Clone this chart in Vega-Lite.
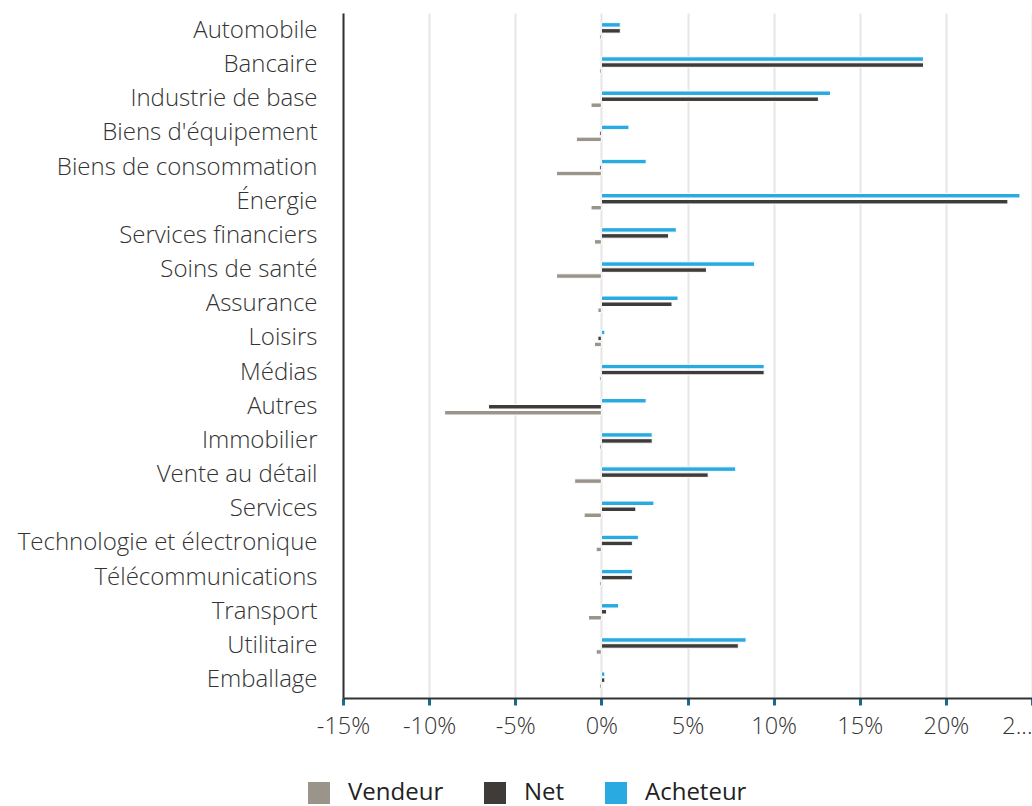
{
  "$schema": "https://vega.github.io/schema/vega-lite/v6.json",
  "autosize": "none",
  "width": 689,
  "height": 685,
  "padding": {"left": 343, "top": 13, "right": 0, "bottom": 108},
  "background": "white",
  "config": {
    "view": {"stroke": null},
    "font": "Open Sans"
  },
  "data": {
    "values": [
      {"secteur": "Automobile", "type": "Acheteur", "valeur": 1.1},
      {"secteur": "Automobile", "type": "Net", "valeur": 1.1},
      {"secteur": "Automobile", "type": "Vendeur", "valeur": -0.1},
      {"secteur": "Bancaire", "type": "Acheteur", "valeur": 18.7},
      {"secteur": "Bancaire", "type": "Net", "valeur": 18.7},
      {"secteur": "Bancaire", "type": "Vendeur", "valeur": -0.1},
      {"secteur": "Industrie de base", "type": "Acheteur", "valeur": 13.3},
      {"secteur": "Industrie de base", "type": "Net", "valeur": 12.6},
      {"secteur": "Industrie de base", "type": "Vendeur", "valeur": -0.6},
      {"secteur": "Biens d'équipement", "type": "Acheteur", "valeur": 1.6},
      {"secteur": "Biens d'équipement", "type": "Net", "valeur": -0.1},
      {"secteur": "Biens d'équipement", "type": "Vendeur", "valeur": -1.45},
      {"secteur": "Biens de consommation", "type": "Acheteur", "valeur": 2.6},
      {"secteur": "Biens de consommation", "type": "Net", "valeur": -0.1},
      {"secteur": "Biens de consommation", "type": "Vendeur", "valeur": -2.6},
      {"secteur": "Énergie", "type": "Acheteur", "valeur": 24.3},
      {"secteur": "Énergie", "type": "Net", "valeur": 23.6},
      {"secteur": "Énergie", "type": "Vendeur", "valeur": -0.6},
      {"secteur": "Services financiers", "type": "Acheteur", "valeur": 4.35},
      {"secteur": "Services financiers", "type": "Net", "valeur": 3.9},
      {"secteur": "Services financiers", "type": "Vendeur", "valeur": -0.4},
      {"secteur": "Soins de santé", "type": "Acheteur", "valeur": 8.9},
      {"secteur": "Soins de santé", "type": "Net", "valeur": 6.1},
      {"secteur": "Soins de santé", "type": "Vendeur", "valeur": -2.6},
      {"secteur": "Assurance", "type": "Acheteur", "valeur": 4.45},
      {"secteur": "Assurance", "type": "Net", "valeur": 4.1},
      {"secteur": "Assurance", "type": "Vendeur", "valeur": -0.2},
      {"secteur": "Loisirs", "type": "Acheteur", "valeur": 0.2},
      {"secteur": "Loisirs", "type": "Net", "valeur": -0.2},
      {"secteur": "Loisirs", "type": "Vendeur", "valeur": -0.4},
      {"secteur": "Médias", "type": "Acheteur", "valeur": 9.45},
      {"secteur": "Médias", "type": "Net", "valeur": 9.45},
      {"secteur": "Médias", "type": "Vendeur", "valeur": -0.1},
      {"secteur": "Autres", "type": "Acheteur", "valeur": 2.6},
      {"secteur": "Autres", "type": "Net", "valeur": -6.55},
      {"secteur": "Autres", "type": "Vendeur", "valeur": -9.1},
      {"secteur": "Immobilier", "type": "Acheteur", "valeur": 2.95},
      {"secteur": "Immobilier", "type": "Net", "valeur": 2.95},
      {"secteur": "Immobilier", "type": "Vendeur", "valeur": -0.1},
      {"secteur": "Vente au détail", "type": "Acheteur", "valeur": 7.8},
      {"secteur": "Vente au détail", "type": "Net", "valeur": 6.2},
      {"secteur": "Vente au détail", "type": "Vendeur", "valeur": -1.55},
      {"secteur": "Services", "type": "Acheteur", "valeur": 3.05},
      {"secteur": "Services", "type": "Net", "valeur": 2.0},
      {"secteur": "Services", "type": "Vendeur", "valeur": -1.0},
      {"secteur": "Technologie et électronique", "type": "Acheteur", "valeur": 2.15},
      {"secteur": "Technologie et électronique", "type": "Net", "valeur": 1.8},
      {"secteur": "Technologie et électronique", "type": "Vendeur", "valeur": -0.3},
      {"secteur": "Télécommunications", "type": "Acheteur", "valeur": 1.8},
      {"secteur": "Télécommunications", "type": "Net", "valeur": 1.8},
      {"secteur": "Télécommunications", "type": "Vendeur", "valeur": -0.1},
      {"secteur": "Transport", "type": "Acheteur", "valeur": 1.0},
      {"secteur": "Transport", "type": "Net", "valeur": 0.3},
      {"secteur": "Transport", "type": "Vendeur", "valeur": -0.75},
      {"secteur": "Utilitaire", "type": "Acheteur", "valeur": 8.4},
      {"secteur": "Utilitaire", "type": "Net", "valeur": 7.95},
      {"secteur": "Utilitaire", "type": "Vendeur", "valeur": -0.3},
      {"secteur": "Emballage", "type": "Acheteur", "valeur": 0.2},
      {"secteur": "Emballage", "type": "Net", "valeur": 0.2},
      {"secteur": "Emballage", "type": "Vendeur", "valeur": -0.1}
    ]
  },
  "mark": {"type": "bar", "stroke": "white", "strokeWidth": 1},
  "encoding": {
    "y": {
      "field": "secteur",
      "type": "nominal",
      "sort": null,
      "scale": {"paddingInner": 0.474, "paddingOuter": 0.26},
      "axis": {
        "title": null,
        "ticks": false,
        "grid": false,
        "domainColor": "#333333",
        "domainWidth": 2,
        "labelFont": "Open Sans",
        "labelFontWeight": 300,
        "labelFontSize": 24,
        "labelColor": "#333333",
        "labelPadding": 26,
        "labelLimit": 400
      }
    },
    "yOffset": {
      "field": "type",
      "type": "nominal",
      "sort": ["Acheteur", "Net", "Vendeur"],
      "scale": {"paddingInner": 0.25, "paddingOuter": 0.125}
    },
    "x": {
      "field": "valeur",
      "type": "quantitative",
      "scale": {"domain": [-15, 25], "nice": false, "zero": false},
      "axis": {
        "title": null,
        "values": [-15, -10, -5, 0, 5, 10, 15, 20, 25],
        "labelExpr": "datum.value >= 25 ? '2...' : datum.value + '%'",
        "labelAlign": {"condition": {"test": "datum.value >= 25", "value": "right"}, "value": "center"},
        "grid": true,
        "gridColor": "#e6e6e6",
        "gridWidth": 2,
        "domainColor": "#333333",
        "domainWidth": 2,
        "tickColor": "#1a6a90",
        "tickWidth": 3,
        "tickSize": 7,
        "labelFont": "Open Sans",
        "labelFontWeight": 300,
        "labelFontSize": 23.5,
        "labelColor": "#333333",
        "labelPadding": 9,
        "labelFlush": false,
        "labelOverlap": false
      }
    },
    "color": {
      "field": "type",
      "type": "nominal",
      "scale": {
        "domain": ["Vendeur", "Net", "Acheteur"],
        "range": ["#9a948a", "#3f3b39", "#29abe2"]
      },
      "legend": {
        "title": null,
        "orient": "none",
        "direction": "horizontal",
        "legendX": -36,
        "legendY": 768,
        "symbolType": "square",
        "symbolSize": 484,
        "symbolStrokeWidth": 0,
        "labelFont": "Open Sans",
        "labelFontSize": 24,
        "labelColor": "#222222",
        "labelOffset": 17,
        "columnPadding": 39
      }
    }
  }
}
